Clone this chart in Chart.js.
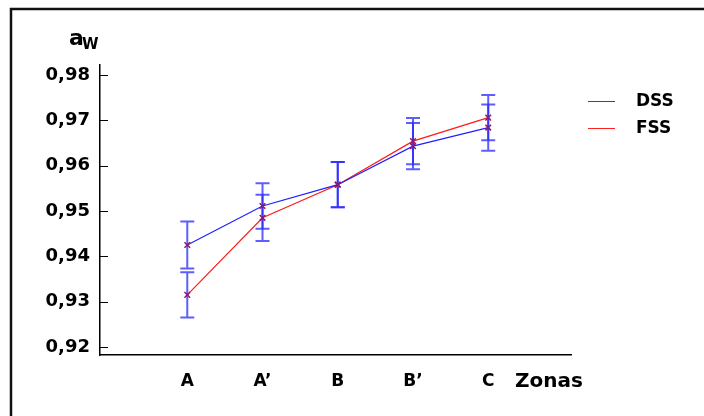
<!DOCTYPE html>
<html>
<head>
<meta charset="utf-8">
<script src="https://cdn.jsdelivr.net/npm/chart.js@4"></script>
<style>
  html, body { margin: 0; padding: 0; background: #fff; }
  #wrap { width: 704px; height: 416px; position: relative; }
</style>
</head>
<body>
<div id="wrap"><canvas id="chart" width="704" height="416"></canvas></div>
<script>
// zones along the x axis
const zones = ['A', 'A\u2019', 'B', 'B\u2019', 'C'];
const dssValues = [0.9425, 0.9511, 0.9558, 0.9643, 0.9684];
const fssValues = [0.9315, 0.9485, 0.9558, 0.9654, 0.9706];
const dssErr = [0.0052, 0.0050, 0.0050, 0.0051, 0.0051];
const fssErr = [0.0050, 0.0051, 0.0050, 0.0051, 0.0050];
const yTicks = [0.92, 0.93, 0.94, 0.95, 0.96, 0.97, 0.98];

const font = 'DejaVu Sans';

function toPoints(values) {
    return values.map((v, i) => ({ x: i + 1, y: v }));
}

// error bars, inward y ticks, titles, legend and frame
const decorations = {
    id: 'decorations',
    beforeDatasetsDraw(chart) {
        const c = chart.ctx;
        const xs = chart.scales.x, ys = chart.scales.y;
        c.save();
        c.strokeStyle = 'rgba(40,40,255,0.75)';
        c.lineWidth = 2;
        chart.data.datasets.forEach(ds => {
            ds.data.forEach((p, i) => {
                const px = xs.getPixelForValue(p.x);
                const top = ys.getPixelForValue(p.y + ds.err[i]);
                const bot = ys.getPixelForValue(p.y - ds.err[i]);
                c.beginPath();
                c.moveTo(px, top); c.lineTo(px, bot);
                c.moveTo(px - 7, top); c.lineTo(px + 7, top);
                c.moveTo(px - 7, bot); c.lineTo(px + 7, bot);
                c.stroke();
            });
        });
        c.restore();
    },
    afterDraw(chart) {
        const c = chart.ctx;
        const ys = chart.scales.y;
        const area = chart.chartArea;
        c.save();
        // y ticks pointing into the plot
        c.strokeStyle = '#000';
        c.lineWidth = 1;
        yTicks.forEach(v => {
            const py = Math.round(ys.getPixelForValue(v)) + 0.5;
            c.beginPath();
            c.moveTo(area.left, py); c.lineTo(area.left + 8, py);
            c.stroke();
        });

        // frame
        c.lineWidth = 2.5;
        c.strokeStyle = '#111';
        c.beginPath();
        c.moveTo(704, 9); c.lineTo(11, 9); c.lineTo(11, 416);
        c.stroke();

        c.fillStyle = '#000';
        // y title a_w
        c.textBaseline = 'alphabetic';
        c.textAlign = 'left';
        c.font = 'bold 22px ' + font;
        c.fillText('a', 69, 45);
        c.font = 'bold 15px ' + font;
        c.fillText('W', 82, 49);

        // x title
        c.textAlign = 'center';
        c.textBaseline = 'middle';
        c.font = 'bold 20px ' + font;
        c.fillText('Zonas', 549, 382);

        // legend
        const items = [['DSS', '#3333ff', 101], ['FSS', '#ff2020', 128]];
        items.forEach(([label, col, y]) => {
            c.strokeStyle = col;
            c.lineWidth = 1;
            c.beginPath();
            c.moveTo(588, y + 0.5); c.lineTo(615, y + 0.5);
            c.stroke();
            c.textAlign = 'left';
            c.font = 'bold 17px ' + font;
            c.fillText(label, 636, y + 1);
        });
        c.restore();
    }
};

new Chart(document.getElementById('chart'), {
    type: 'line',
    data: {
        datasets: [
            {
                label: 'DSS',
                data: toPoints(dssValues),
                err: dssErr,
                borderColor: '#2020ff',
                borderWidth: 1.2,
                pointStyle: 'crossRot',
                pointRadius: 4,
                pointBorderColor: '#8b1a6b',
                pointBorderWidth: 1.5,
                fill: false
            },
            {
                label: 'FSS',
                data: toPoints(fssValues),
                err: fssErr,
                borderColor: '#ff1a1a',
                borderWidth: 1.2,
                pointStyle: 'crossRot',
                pointRadius: 4,
                pointBorderColor: '#8b1a6b',
                pointBorderWidth: 1.5,
                fill: false
            }
        ]
    },
    options: {
        responsive: false,
        animation: false,
        layout: { padding: { top: 65, right: 133, left: 0, bottom: 0 } },
        plugins: { legend: { display: false }, tooltip: { enabled: false } },
        scales: {
            x: {
                type: 'linear',
                min: -0.16,
                max: 6.1,
                afterBuildTicks(scale) {
                    scale.ticks = zones.map((z, i) => ({ value: i + 1 }));
                },
                afterFit(scale) { scale.height = 61; },
                grid: { display: false, drawTicks: false },
                border: { display: true, color: '#000', width: 1.5 },
                ticks: {
                    padding: 16,
                    color: '#000',
                    maxRotation: 0,
                    font: { family: font, size: 17, weight: 'bold' },
                    callback: v => zones[v - 1]
                }
            },
            y: {
                min: 0.91824,
                max: 0.9822,
                afterBuildTicks(scale) {
                    scale.ticks = yTicks.map(v => ({ value: v }));
                },
                afterFit(scale) { scale.width = 100; },
                grid: { display: false, drawTicks: false },
                border: { display: true, color: '#000', width: 1.5 },
                ticks: {
                    padding: 10,
                    color: '#000',
                    font: { family: font, size: 18, weight: 'bold' },
                    callback: v => v.toFixed(2).replace('.', ',')
                }
            }
        }
    },
    plugins: [decorations]
});
</script>
</body>
</html>
